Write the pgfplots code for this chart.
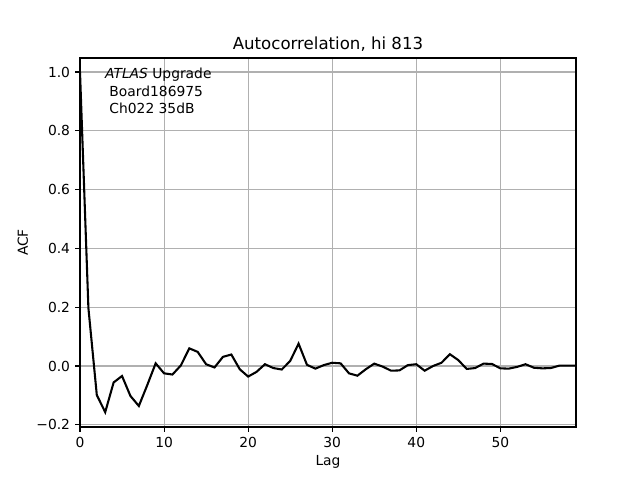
\documentclass[border=0pt]{standalone}
\usepackage{fontspec}
\setmainfont{DejaVu Sans}
\usepackage{pgfplots}
\pgfplotsset{compat=1.18}
\definecolor{gridgray}{HTML}{B0B0B0}
\pgfplotstableread{
lag acf
0 1.000
1 0.197
2 -0.099
3 -0.157
4 -0.056
5 -0.034
6 -0.102
7 -0.136
8 -0.065
9 0.009
10 -0.025
11 -0.029
12 0.002
13 0.060
14 0.048
15 0.006
16 -0.005
17 0.031
18 0.039
19 -0.011
20 -0.036
21 -0.020
22 0.006
23 -0.007
24 -0.012
25 0.017
26 0.076
27 0.004
28 -0.009
29 0.003
30 0.011
31 0.009
32 -0.025
33 -0.033
34 -0.011
35 0.008
36 -0.002
37 -0.016
38 -0.015
39 0.003
40 0.006
41 -0.016
42 0.000
43 0.011
44 0.040
45 0.020
46 -0.010
47 -0.007
48 0.008
49 0.007
50 -0.008
51 -0.009
52 -0.003
53 0.006
54 -0.006
55 -0.008
56 -0.007
57 0.001
58 0.001
59 0.001
}\acfdata
\begin{document}
\begin{tikzpicture}
\useasboundingbox (0,0) rectangle (6.4in,4.8in);
\begin{axis}[
  at={(0.8in,0.53in)}, anchor=south west,
  scale only axis, width=4.96in, height=3.69in,
  xmin=0, xmax=59, ymin=-0.2075, ymax=1.0476,
  xtick={0,10,20,30,40,50},
  ytick={-0.2,0,0.2,0.4,0.6,0.8,1.0},
  yticklabels={−0.2,0.0,0.2,0.4,0.6,0.8,1.0},
  /pgf/number format/assume math mode=true,
  tick align=outside, tick pos=left,
  major tick length=3.5pt,
  every tick/.style={black, line width=0.8pt},
  axis line style={line width=0.8pt},
  grid=major,
  major grid style={gridgray, line width=0.8pt},
  tick label style={font=\fontsize{10}{12}\selectfont},
  xticklabel style={anchor=north, inner sep=0pt, yshift=-3.5pt},
  yticklabel style={anchor=east, inner sep=0pt, xshift=-3.5pt},
  xlabel={Lag}, ylabel={ACF},
  label style={font=\fontsize{10}{12}\selectfont},
  xlabel style={at={(axis description cs:0.5,-0.0949)}, anchor=center, inner sep=0pt},
  ylabel style={at={(axis description cs:-0.115,0.5)}, anchor=center, inner sep=0pt},
  title={Autocorrelation, hi 813},
  title style={at={(axis description cs:0.5,1)}, anchor=base, inner sep=0pt, font=\fontsize{12}{14}\selectfont},
]
\addplot[black, line width=1.5pt, mark=none] table[x=lag, y=acf] {\acfdata};
\node[anchor=base west, inner sep=0pt, font=\fontsize{10}{12}\selectfont] at (rel axis cs:0.05,0.944) {\textit{ATLAS} Upgrade};
\node[anchor=base west, inner sep=0pt, font=\fontsize{10}{12}\selectfont] at (rel axis cs:0.05,0.897) {\ Board186975};
\node[anchor=base west, inner sep=0pt, font=\fontsize{10}{12}\selectfont] at (rel axis cs:0.05,0.850) {\ Ch022 35dB};
\end{axis}
\end{tikzpicture}
\end{document}
